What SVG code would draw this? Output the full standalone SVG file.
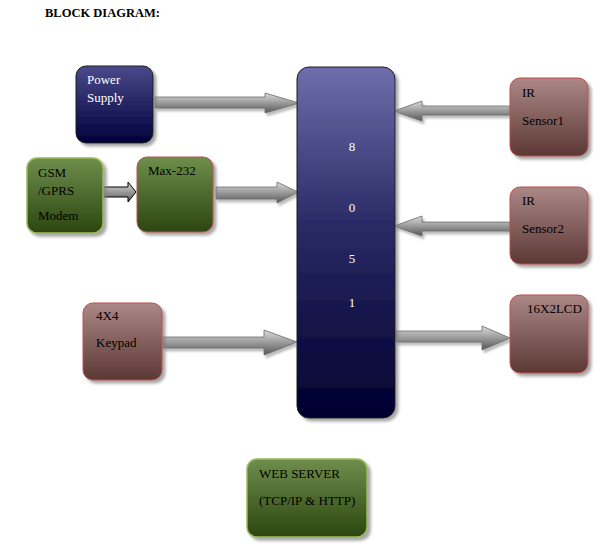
<svg xmlns="http://www.w3.org/2000/svg" width="600" height="549" viewBox="0 0 600 549">
<defs>
<linearGradient id="gNavy" x1="0" y1="0" x2="0" y2="1"><stop offset="0" stop-color="#4a4a8c"/><stop offset="1" stop-color="#00003a"/></linearGradient>
<linearGradient id="gMcu" x1="0" y1="0" x2="0" y2="1"><stop offset="0" stop-color="#6e6eac"/><stop offset="0.45" stop-color="#2a2a66"/><stop offset="1" stop-color="#00002e"/></linearGradient>
<linearGradient id="gGreen" x1="0" y1="0" x2="0" y2="1"><stop offset="0" stop-color="#6e8e4c"/><stop offset="1" stop-color="#2c4610"/></linearGradient>
<linearGradient id="gBrown" x1="0" y1="0" x2="0" y2="1"><stop offset="0" stop-color="#ab8886"/><stop offset="1" stop-color="#5c3834"/></linearGradient>
<linearGradient id="gArrow" x1="0" y1="0" x2="0" y2="1"><stop offset="0" stop-color="#dcdcdc"/><stop offset="0.5" stop-color="#9a9a9a"/><stop offset="1" stop-color="#585858"/></linearGradient>
<filter id="sh" x="-20%" y="-20%" width="150%" height="150%"><feDropShadow dx="3" dy="3" stdDeviation="1.5" flood-color="#808080" flood-opacity="0.7"/></filter>
<filter id="ash" x="-10%" y="-30%" width="130%" height="180%"><feDropShadow dx="2" dy="3" stdDeviation="1" flood-color="#909090" flood-opacity="0.6"/></filter>
</defs>
<style>
.t{font-family:"Liberation Serif","Times New Roman",serif;font-size:13px;fill:#000}
.w{fill:#fff}
.title{font-family:"Liberation Serif","Times New Roman",serif;font-size:12.5px;font-weight:bold;fill:#000}
.navy{fill:url(#gNavy);stroke:#1a1a1a;stroke-width:1;filter:url(#sh)}
.mcu{fill:url(#gMcu);stroke:#1a1a1a;stroke-width:1;filter:url(#sh)}
.gl{fill:url(#gGreen);stroke:#9bbb59;stroke-width:1.5;filter:url(#sh)}
.gr{fill:url(#gGreen);stroke:#c0504d;stroke-width:1;filter:url(#sh)}
.br{fill:url(#gBrown);stroke:#c0504d;stroke-width:1;filter:url(#sh)}
.arr{fill:url(#gArrow);stroke:#6a6a6a;stroke-width:0.8;filter:url(#ash)}
.arrb{fill:url(#gArrow);stroke:#000;stroke-width:1}
</style>
<text class="title" x="45" y="17">BLOCK DIAGRAM:</text>

<g id="connectors">
<polygon class="arr" points="155,97 265,97 265,93 299,103 265,113 265,108 155,108"/>
<polygon class="arrb" points="103,187 128,187 128,182 136,192 128,202 128,197 103,197"/>
<polygon class="arr" points="216,187 277,187 277,182 298,192 277,203 277,199 216,199"/>
<polygon class="arr" points="163,337 264,337 264,330 297,342 264,355 264,348 163,348"/>
<polygon class="arr" points="510,106 422,106 422,101 394,111 422,121 422,115 510,115"/>
<polygon class="arr" points="510,222 422,222 422,216 394,226 422,236 422,231 510,231"/>
<polygon class="arr" points="396,331 482,331 482,326 510,338 482,350 482,342 396,342"/>
</g>

<g id="power">
<rect class="navy" x="76" y="66" width="77" height="77" rx="10"/>
<text class="t w" x="87" y="84">Power</text>
<text class="t w" x="87" y="102">Supply</text>
</g>
<g id="gsm">
<rect class="gl" x="27" y="158" width="76" height="75" rx="10"/>
<text class="t" x="38" y="177">GSM</text>
<text class="t" x="38" y="195">/GPRS</text>
<text class="t" x="38" y="220">Modem</text>
</g>
<g id="max232">
<rect class="gr" x="137" y="157" width="76" height="75" rx="10"/>
<text class="t" x="148" y="175">Max-232</text>
</g>
<g id="keypad">
<rect class="br" x="83" y="303" width="79" height="77" rx="10"/>
<text class="t" x="96" y="320">4X4</text>
<text class="t" x="96" y="347">Keypad</text>
</g>
<g id="mcu">
<rect class="mcu" x="297" y="67" width="98" height="351" rx="12"/>
<text class="t w" x="352" y="151" text-anchor="middle">8</text>
<text class="t w" x="352" y="212" text-anchor="middle">0</text>
<text class="t w" x="352" y="263" text-anchor="middle">5</text>
<text class="t w" x="352" y="307" text-anchor="middle">1</text>
</g>
<g id="ir1">
<rect class="br" x="510" y="78" width="78" height="78" rx="10"/>
<text class="t" x="522" y="97">IR</text>
<text class="t" x="522" y="125">Sensor1</text>
</g>
<g id="ir2">
<rect class="br" x="510" y="187" width="78" height="77" rx="10"/>
<text class="t" x="522" y="205">IR</text>
<text class="t" x="522" y="233">Sensor2</text>
</g>
<g id="lcd">
<rect class="br" x="510" y="295" width="78" height="78" rx="10"/>
<text class="t" x="527" y="313">16X2LCD</text>
</g>
<g id="webserver">
<rect class="gl" x="247" y="459" width="120" height="78" rx="10"/>
<text class="t" x="259" y="478">WEB SERVER</text>
<text class="t" x="259" y="505">(TCP/IP &amp; HTTP)</text>
</g>
</svg>
